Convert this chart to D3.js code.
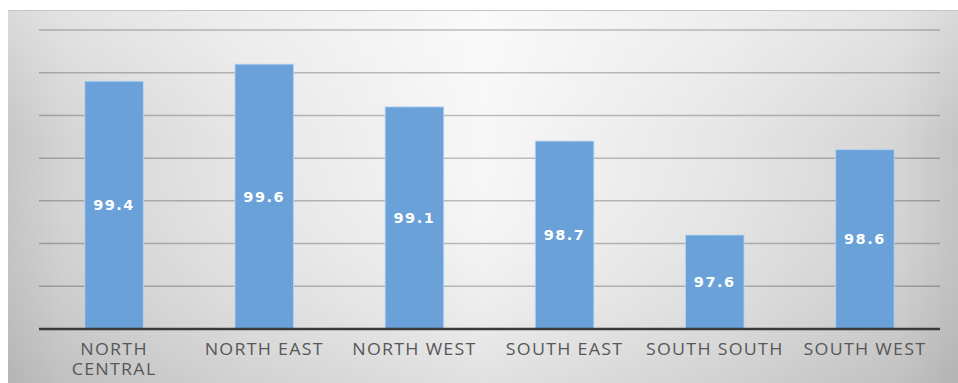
<!DOCTYPE html>
<html>
<head>
<meta charset="utf-8">
<script src="https://cdn.jsdelivr.net/npm/d3@7"></script>
<style>
  html, body { margin: 0; padding: 0; background: #fff; }
  svg { display: block; }
</style>
</head>
<body>
<svg id="chart" width="958" height="383"></svg>
<script>
// Regional values
const regions = ["NORTH CENTRAL", "NORTH EAST", "NORTH WEST", "SOUTH EAST", "SOUTH SOUTH", "SOUTH WEST"];
const values = [99.4, 99.6, 99.1, 98.7, 97.6, 98.6];
const gridTicks = [96.5, 97, 97.5, 98, 98.5, 99, 99.5, 100];

const W = 958, H = 383;
const svg = d3.select("#chart");
const defs = svg.append("defs");

// Panel shading: grey at the sides, bright in the middle, a little darker toward the bottom
const hGrad = defs.append("linearGradient")
  .attr("id", "panelH").attr("x1", "0%").attr("x2", "100%").attr("y1", "0%").attr("y2", "0%");
[["0%", "#c6c6c6"], ["6%", "#d4d4d4"], ["25%", "#e6e6e6"], ["50%", "#f7f7f7"],
 ["75%", "#e6e6e6"], ["94%", "#d4d4d4"], ["100%", "#c4c4c4"]]
  .forEach(([o, c]) => hGrad.append("stop").attr("offset", o).attr("stop-color", c));

const vGrad = defs.append("linearGradient")
  .attr("id", "panelV").attr("x1", "0%").attr("x2", "0%").attr("y1", "0%").attr("y2", "100%");
vGrad.append("stop").attr("offset", "0%").attr("stop-color", "#fff").attr("stop-opacity", 0.35);
vGrad.append("stop").attr("offset", "35%").attr("stop-color", "#fff").attr("stop-opacity", 0);
vGrad.append("stop").attr("offset", "100%").attr("stop-color", "#000").attr("stop-opacity", 0.09);

svg.append("rect")
  .attr("x", 8).attr("y", 10)
  .attr("width", W - 8).attr("height", H - 10)
  .attr("fill", "url(#panelH)");
svg.append("rect")
  .attr("x", 8).attr("y", 10)
  .attr("width", W - 8).attr("height", H - 10)
  .attr("fill", "url(#panelV)");
svg.append("line")
  .attr("x1", 8).attr("x2", W).attr("y1", 10.5).attr("y2", 10.5)
  .attr("stroke", "#c4c4c4").attr("stroke-width", 1);

const margin = { left: 39, right: 18, top: 30, bottom: 54 };
const x = d3.scaleBand()
  .domain(regions)
  .range([margin.left, W - margin.right])
  .paddingInner(0.61)
  .paddingOuter(0.305);
const y = d3.scaleLinear()
  .domain([96.5, 100])
  .range([H - margin.bottom, margin.top]);

// Horizontal gridlines
svg.append("g")
  .selectAll("line")
  .data(gridTicks.slice(1))
  .join("line")
  .attr("x1", margin.left).attr("x2", W - margin.right)
  .attr("y1", d => y(d)).attr("y2", d => y(d))
  .attr("stroke", "#000").attr("stroke-opacity", 0.24)
  .attr("stroke-width", 1.5);

// Bars
svg.append("g")
  .selectAll("rect")
  .data(values)
  .join("rect")
  .attr("x", (d, i) => x(regions[i]))
  .attr("y", d => y(d))
  .attr("width", x.bandwidth())
  .attr("height", d => y(96.5) - y(d))
  .attr("fill", "#69a1d8")
  .attr("stroke", "#b9d7f3")
  .attr("stroke-opacity", 0.8)
  .attr("stroke-width", 1);

// Baseline
svg.append("line")
  .attr("x1", margin.left).attr("x2", W - margin.right)
  .attr("y1", y(96.5)).attr("y2", y(96.5))
  .attr("stroke", "#3a3a3a").attr("stroke-width", 2.5);

// Value labels in the middle of each bar
svg.append("g")
  .selectAll("text")
  .data(values)
  .join("text")
  .attr("x", (d, i) => x(regions[i]) + x.bandwidth() / 2)
  .attr("y", d => (y(d) + y(96.5)) / 2)
  .attr("text-anchor", "middle")
  .attr("dominant-baseline", "central")
  .attr("font-family", "'DejaVu Sans', Verdana, sans-serif")
  .attr("font-weight", "bold")
  .attr("font-size", 14.5)
  .attr("letter-spacing", 1.5)
  .attr("fill", "#ffffff")
  .text(d => d.toFixed(1));

// Category labels (slightly widened type), wrapped when too wide for the slot
const catG = svg.append("g");
regions.forEach((r, i) => {
  const cx = x(r) + x.bandwidth() / 2;
  const lines = r === "NORTH CENTRAL" ? ["NORTH", "CENTRAL"] : [r];
  lines.forEach((ln, k) => {
    const baseY = 355 + k * 20;
    catG.append("text")
      .attr("transform", `translate(${cx},${baseY}) scale(1.15,1)`)
      .attr("text-anchor", "middle")
      .attr("font-family", "'Open Sans', sans-serif")
      .attr("font-size", 15.5)
      .attr("letter-spacing", 1.1)
      .attr("fill", "#575757")
      .text(ln);
  });
});
</script>
</body>
</html>
